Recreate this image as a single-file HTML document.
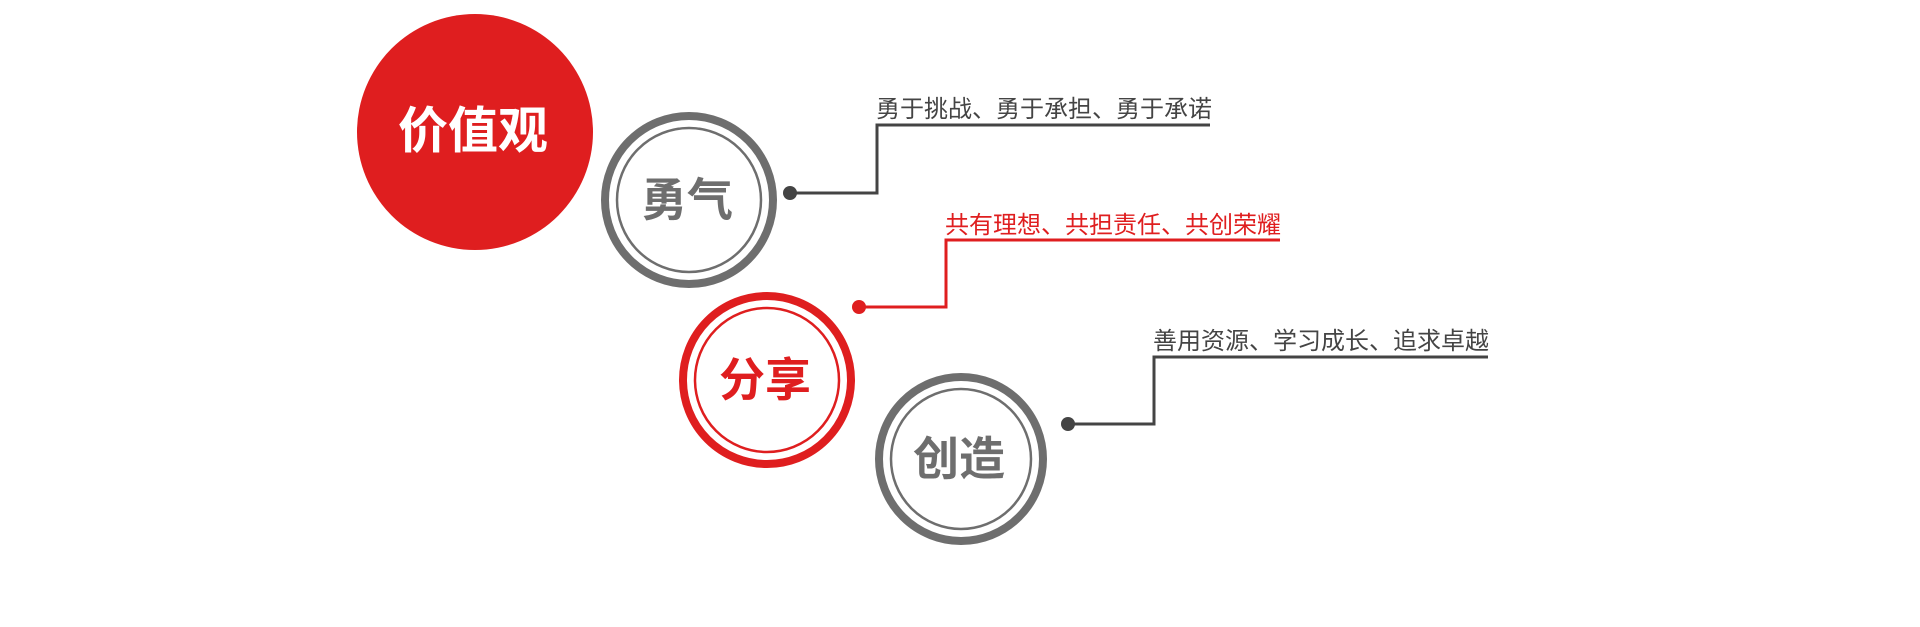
<!DOCTYPE html>
<html><head><meta charset="utf-8"><style>
html,body{margin:0;padding:0;background:#fff;width:1920px;height:627px;overflow:hidden}
svg{display:block}
text{font-family:"Liberation Sans","Noto Sans CJK SC",sans-serif}
</style></head><body>
<svg width="1920" height="627" viewBox="0 0 1920 627" xmlns="http://www.w3.org/2000/svg">
<circle cx="475" cy="132" r="118" fill="#df1e1f"/>
<text x="473" y="148" font-size="50" font-weight="bold" fill="#fff" text-anchor="middle">价值观</text>

<circle cx="689" cy="200" r="84" fill="none" stroke="#6e6e6e" stroke-width="8"/>
<circle cx="689" cy="200" r="72" fill="none" stroke="#6e6e6e" stroke-width="2.5"/>
<text x="687" y="216" font-size="46" font-weight="bold" fill="#6e6e6e" text-anchor="middle">勇气</text>

<circle cx="767" cy="380" r="84" fill="none" stroke="#df1e1f" stroke-width="8"/>
<circle cx="767" cy="380" r="72" fill="none" stroke="#df1e1f" stroke-width="2.5"/>
<text x="765" y="396" font-size="46" font-weight="bold" fill="#df1e1f" text-anchor="middle">分享</text>

<circle cx="961" cy="459" r="82" fill="none" stroke="#6e6e6e" stroke-width="8"/>
<circle cx="961" cy="459" r="70" fill="none" stroke="#6e6e6e" stroke-width="2.5"/>
<text x="959" y="475" font-size="46" font-weight="bold" fill="#6e6e6e" text-anchor="middle">创造</text>

<polyline points="789,193 877,193 877,125 1210,125" fill="none" stroke="#444" stroke-width="3"/>
<circle cx="790" cy="193" r="7" fill="#444"/>
<text x="876" y="117" font-size="24" fill="#444">勇于挑战、勇于承担、勇于承诺</text>

<polyline points="859,307 946,307 946,240 1280,240" fill="none" stroke="#df1e1f" stroke-width="3"/>
<circle cx="859" cy="307" r="7" fill="#df1e1f"/>
<text x="945" y="233" font-size="24" fill="#df1e1f">共有理想、共担责任、共创荣耀</text>

<polyline points="1068,424 1154,424 1154,357 1488,357" fill="none" stroke="#444" stroke-width="3"/>
<circle cx="1068" cy="424" r="7" fill="#444"/>
<text x="1153" y="349" font-size="24" fill="#444">善用资源、学习成长、追求卓越</text>
</svg>
</body></html>
